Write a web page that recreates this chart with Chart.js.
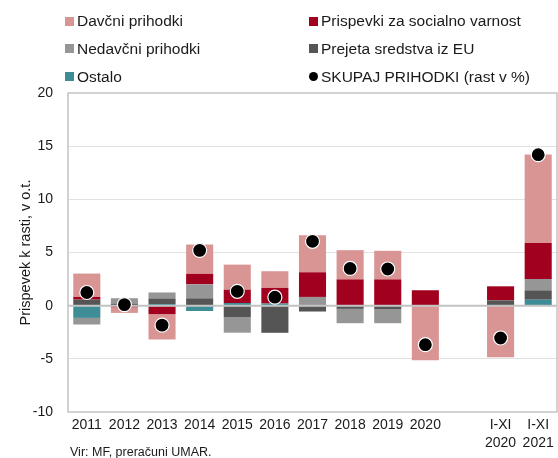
<!DOCTYPE html>
<html>
<head>
<meta charset="utf-8">
<script src="https://cdn.jsdelivr.net/npm/chart.js@4"></script>
<style>
  html, body { margin: 0; padding: 0; background: #fff; overflow: hidden; }
  #wrap { position: relative; width: 558px; height: 458px; font-family: "Liberation Sans", Arial, sans-serif; color: #1a1a1a; }
  #chart { position: absolute; left: 0; top: 0; }
  .leg { position: absolute; font-size: 15.5px; line-height: 18px; white-space: nowrap; }
  .mark { position: absolute; width: 9px; height: 9px; }
  #source { position: absolute; left: 70px; top: 445px; font-size: 12.5px; line-height: 14px; }
</style>
</head>
<body>
<div id="wrap">
  <canvas id="chart" width="558" height="458"></canvas>
  <div id="legend"></div>
  <div id="source">Vir: MF, preračuni UMAR.</div>
</div>
<script>
// categories (empty slot between 2020 and the I-XI periods)
const labels = ['2011', '2012', '2013', '2014', '2015', '2016', '2017', '2018', '2019', '2020', '',
                ['I-XI', '2020'], ['I-XI', '2021']];

// contributions to growth, p.p.
const ostalo     = [-1.15, 0,    0.15, -0.5,  0.25,  0.2,   0,     0.05, 0.05,  0,     null, 0,     0.56];
const prejetaEU  = [0.57,  0.2,  0.53, 0.69, -1.1,  -2.55, -0.55, -0.3, -0.35,  0,     null, 0.5,   0.88];
const nedavcni   = [-0.62, 0.5,  0.56, 1.32, -1.44,  0,     0.82, -1.35, -1.3,  0,     null, 0,     1.07];
const prispevki  = [0.25, -0.15, -0.8, 0.98,  1.25,  1.47,  2.32,  2.42, 2.42,  1.45,  null, 1.32,  3.39];
const davcni     = [2.2,  -0.53, -2.38, 2.76, 2.36,  1.57,  3.48,  2.75, 2.69, -5.14,  null, -4.86, 8.31];
const skupaj     = [1.24,  0.1, -1.83, 5.2,   1.35,  0.8,   6.05,  3.5,  3.45, -3.67,  null, -3.04, 14.2];

const yTicks = [-10, -5, 0, 5, 10, 15, 20];

const C_PINK = '#d99594';
const C_RED = '#a1001e';
const C_GREY = '#969696';
const C_DARK = '#555555';
const C_TEAL = '#3e8c96';

// legend, two columns as in the original
const legendItems = [
    {text: 'Davčni prihodki', color: C_PINK, col: 0, row: 0},
    {text: 'Prispevki za socialno varnost', color: C_RED, col: 1, row: 0},
    {text: 'Nedavčni prihodki', color: C_GREY, col: 0, row: 1},
    {text: 'Prejeta sredstva iz EU', color: C_DARK, col: 1, row: 1},
    {text: 'Ostalo', color: C_TEAL, col: 0, row: 2},
    {text: 'SKUPAJ PRIHODKI (rast v %)', color: '#000', col: 1, row: 2, dot: true}
];
const rowY = [21, 48.5, 76.5];
const colX = [65, 309];
let html = '';
legendItems.forEach(it => {
    const x = colX[it.col], y = rowY[it.row];
    const radius = it.dot ? 'border-radius:50%;' : '';
    html += '<span class="mark" style="left:' + x + 'px;top:' + (y - 4.5) + 'px;background:' + it.color + ';' + radius + '"></span>';
    html += '<span class="leg" style="left:' + (x + 12) + 'px;top:' + (y - 9) + 'px">' + it.text + '</span>';
});
document.getElementById('legend').innerHTML = html;

Chart.defaults.font.family = '"Liberation Sans", Arial, sans-serif';
Chart.defaults.color = '#1a1a1a';

// plot frame and zero line (zero line sits over the bars, under the dots)
const framePlugin = {
    id: 'frame',
    beforeDatasetDraw(chart, args) {
        if (args.index !== 5) return;
        const {ctx, chartArea: a, scales: {y}} = chart;
        const y0 = y.getPixelForValue(0);
        ctx.save();
        ctx.strokeStyle = '#c2c2c2';
        ctx.lineWidth = 2;
        ctx.beginPath();
        ctx.moveTo(a.left, y0);
        ctx.lineTo(a.right, y0);
        ctx.stroke();
        ctx.restore();
    },
    afterDraw(chart) {
        const {ctx, chartArea: a} = chart;
        ctx.save();
        ctx.strokeStyle = '#c4c4c4';
        ctx.lineWidth = 1.5;
        ctx.strokeRect(a.left, a.top, a.right - a.left, a.bottom - a.top);
        ctx.restore();
    }
};

const barOpts = {type: 'bar', stack: 'parts', barPercentage: 0.72, categoryPercentage: 1, borderWidth: 0};

new Chart(document.getElementById('chart'), {
    data: {
        labels: labels,
        datasets: [
            Object.assign({label: 'Ostalo', data: ostalo, backgroundColor: C_TEAL}, barOpts),
            Object.assign({label: 'Prejeta sredstva iz EU', data: prejetaEU, backgroundColor: C_DARK}, barOpts),
            Object.assign({label: 'Nedavčni prihodki', data: nedavcni, backgroundColor: C_GREY}, barOpts),
            Object.assign({label: 'Prispevki za socialno varnost', data: prispevki, backgroundColor: C_RED}, barOpts),
            Object.assign({label: 'Davčni prihodki', data: davcni, backgroundColor: C_PINK}, barOpts),
            {
                type: 'line',
                label: 'SKUPAJ PRIHODKI (rast v %)',
                data: skupaj,
                stack: 'total',
                showLine: false,
                order: -1,
                pointRadius: 7,
                pointBackgroundColor: '#000',
                pointBorderColor: '#fff',
                pointBorderWidth: 1.2
            }
        ]
    },
    options: {
        responsive: false,
        animation: false,
        layout: {autoPadding: false, padding: {top: 93, right: 1, bottom: 0, left: 0}},
        plugins: {
            legend: {display: false},
            tooltip: {enabled: false}
        },
        scales: {
            x: {
                stacked: true,
                offset: true,
                grid: {display: false, drawTicks: false},
                border: {display: false},
                ticks: {
                    padding: 4,
                    maxRotation: 0,
                    autoSkip: false,
                    font: {size: 14, lineHeight: 1.3}
                },
                afterFit: scale => {
                    scale.height = 46;
                    scale.paddingLeft = 0;
                    scale.paddingRight = 0;
                }
            },
            y: {
                stacked: true,
                min: -10,
                max: 20,
                afterBuildTicks: scale => { scale.ticks = yTicks.map(v => ({value: v})); },
                grid: {
                    drawTicks: false,
                    color: c => (c.tick.value === 0 || c.tick.value === 20 || c.tick.value === -10) ? 'rgba(0,0,0,0)' : '#e2e2e2',
                    lineWidth: 1
                },
                border: {display: false},
                ticks: {padding: 15, font: {size: 14}},
                title: {
                    display: true,
                    text: 'Prispevek k rasti, v o.t.',
                    font: {size: 14.5},
                    padding: {top: 17, bottom: 0}
                },
                afterFit: scale => { scale.width = 68; }
            }
        }
    },
    plugins: [framePlugin]
});
</script>
</body>
</html>
